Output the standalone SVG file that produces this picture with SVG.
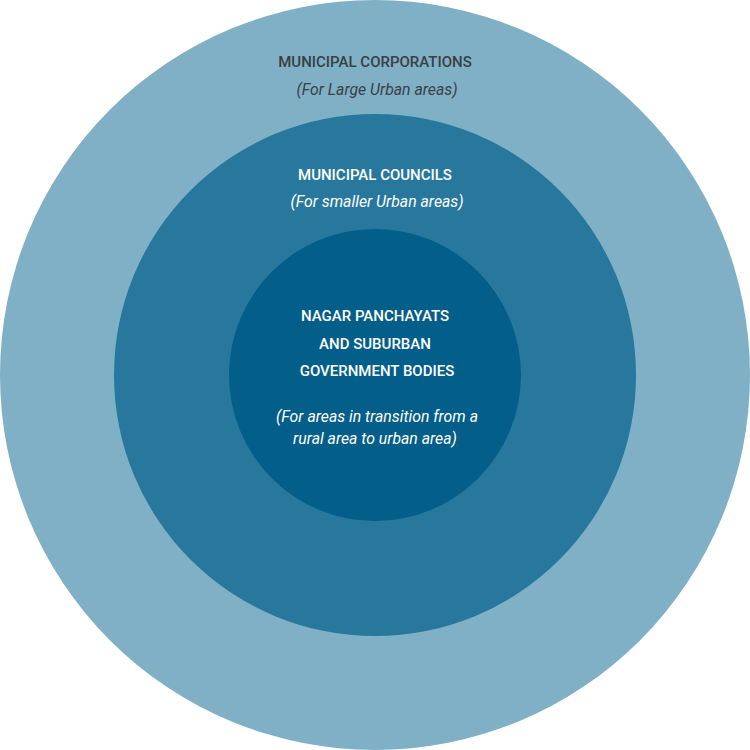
<svg xmlns="http://www.w3.org/2000/svg" width="750" height="750" viewBox="0 0 750 750">
<style>
.h{font-family:Roboto,"Liberation Sans",sans-serif;font-size:15px;font-weight:500;text-anchor:middle}
.s{font-family:Roboto,"Liberation Sans",sans-serif;font-size:15.8px;font-style:italic;text-anchor:middle}
.dark{fill:#3a3f44}
.light{fill:#ffffff}
</style>
<rect width="750" height="750" fill="#ffffff"/>
<g id="outer">
<circle cx="375" cy="375" r="375" fill="#80b0c6"/>
<text class="h dark" x="375" y="67">MUNICIPAL CORPORATIONS</text>
<text class="s dark" x="377" y="95">(For Large Urban areas)</text>
</g>
<g id="middle">
<circle cx="375" cy="375" r="261" fill="#27789c"/>
<text class="h light" x="375" y="180">MUNICIPAL COUNCILS</text>
<text class="s light" x="377" y="207">(For smaller Urban areas)</text>
</g>
<g id="inner">
<circle cx="375" cy="375" r="146" fill="#035e89"/>
<text class="h light" x="375" y="321">NAGAR PANCHAYATS</text>
<text class="h light" x="375" y="349">AND SUBURBAN</text>
<text class="h light" x="377" y="376">GOVERNMENT BODIES</text>
<text class="s light" x="377" y="422">(For areas in transition from a</text>
<text class="s light" x="375" y="444">rural area to urban area)</text>
</g>
<g id="connectors"/>
</svg>
